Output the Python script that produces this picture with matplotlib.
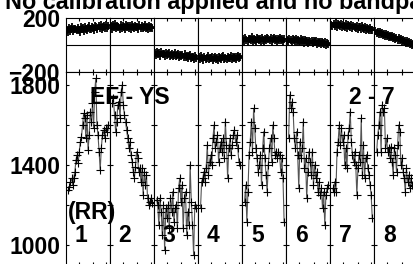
import numpy as np
import matplotlib
matplotlib.use('Agg')
import matplotlib.pyplot as plt

plt.rcParams.update({
    'font.family': 'Liberation Sans', 'font.weight': 'bold',
    'axes.linewidth': 0.8,
})

# ---- data ----
# upper strip: one list per segment (no calibration, offsets)
TOP1 = [112, 98, 125, 104, 118, 130, 101, 115, 122, 108, 127, 113, 99, 131, 117, 124, 106, 135, 119, 112,
        128, 140, 115, 122, 137, 126, 110, 143, 131, 120, 138, 127, 145, 118, 133, 141, 124, 150, 129, 138]
TOP2 = [138, 121, 146, 130, 152, 125, 140, 133, 118, 147, 129, 141, 136, 122, 150, 131, 144, 127, 139, 116,
        148, 134, 125, 143, 130, 137, 120, 145, 128, 140, 123, 135, 146, 126, 132, 119, 141, 129, 137, 124]
TOP3 = [-58, -72, -50, -66, -61, -78, -55, -70, -64, -82, -60, -73, -68, -57, -79, -71, -65, -84, -74, -62,
        -80, -76, -69, -88, -73, -82, -77, -91, -70, -86, -80, -94, -83, -76, -97, -87, -90, -102, -85, -96]
TOP4 = [-92, -104, -85, -98, -110, -90, -101, -95, -83, -106, -93, -99, -87, -108, -96, -89, -102, -94, -111, -86,
        -97, -103, -91, -84, -100, -93, -107, -88, -98, -95, -82, -104, -90, -97, -86, -101, -92, -84, -99, -89]
TOP5 = [44, 30, 52, 38, 27, 48, 41, 35, 56, 33, 45, 39, 24, 50, 42, 36, 47, 31, 54, 40,
        29, 46, 37, 51, 43, 34, 49, 26, 41, 53, 38, 45, 32, 48, 40, 55, 35, 44, 30, 42]
TOP6 = [40, 28, 47, 34, 25, 42, 37, 30, 45, 26, 38, 33, 21, 41, 29, 35, 18, 36, 27, 31,
        14, 33, 24, 28, 12, 26, 19, 30, 10, 22, 16, 25, 5, 19, 13, 8, 20, 2, 12, 6]
TOP7 = [150, 138, 158, 144, 162, 135, 152, 147, 140, 156, 131, 149, 143, 137, 154, 128, 146, 139, 132, 150,
        126, 141, 135, 129, 144, 122, 137, 131, 117, 139, 125, 118, 133, 112, 127, 120, 108, 124, 114, 110]
TOP8 = [102, 90, 95, 84, 98, 80, 88, 75, 85, 70, 79, 66, 74, 62, 70, 57, 66, 50, 60, 46,
        54, 40, 49, 35, 44, 28, 39, 24, 33, 17, 28, 12, 22, 6, 16, 0, 10, -6, 4, -12]

# lower strip: RR interval per segment
RR1 = [1275, 1292, 1317, 1333, 1300, 1337, 1367, 1425, 1450, 1408, 1467, 1517, 1542, 1600, 1658, 1633, 1533, 1650, 1475,
       1550, 1667, 1617, 1708, 1583, 1767, 1833, 1600, 1550, 1467, 1375, 1483, 1550, 1575, 1533, 1583, 1567, 1600]
RR2 = [1708, 1733, 1650, 1567, 1617, 1700, 1717, 1633, 1767, 1800, 1700, 1650, 1617, 1575, 1533, 1483, 1517, 1450, 1417,
       1367, 1333, 1392, 1467, 1433, 1367, 1383, 1317, 1383, 1250, 1367, 1300, 1350, 1233, 1200, 1217, 1233, 1208]
RR3 = [1225, 1200, 1100, 1233, 1167, 1050, 1200, 975, 1183, 1133, 1200, 1083, 1233, 1167, 1267, 1117, 1183, 1200,
       1083, 1283, 1333, 1217, 1300, 1083, 1233, 1267, 1050, 1167, 1100, 1400, 1217, 1100, 950, 1200, 1183]
RR4 = [1183, 1317, 1333, 1367, 1317, 1383, 1500, 1350, 1417, 1450, 1400, 1533, 1600, 1483, 1517, 1550, 1417, 1483,
       1517, 1467, 1533, 1433, 1617, 1500, 1333, 1483, 1533, 1450, 1500, 1550, 1575, 1517, 1550, 1483, 1417, 1400]
RR5 = [1217, 1300, 1117, 1267, 1450, 1517, 1617, 1467, 1683, 1583, 1483, 1433, 1367, 1400, 1450, 1300, 1483, 1567,
       1433, 1350, 1267, 1400, 1483, 1533, 1417, 1600, 1533, 1450, 1467, 1433, 1467, 1450, 1367, 1433, 1333, 1117]
RR6 = [1533, 1750, 1683, 1717, 1667, 1533, 1483, 1567, 1450, 1283, 1517, 1433, 1483, 1617, 1383, 1433, 1233, 1367,
       1467, 1417, 1350, 1467, 1300, 1400, 1333, 1367, 1267, 1317, 1250, 1283, 1183, 1267, 1100, 1250, 1283, 1300]
RR7 = [1283, 1267, 1317, 1267, 1467, 1517, 1600, 1500, 1583, 1517, 1550, 1400, 1483, 1383, 1550, 1583, 1667, 1517, 1450,
       1417, 1467, 1400, 1250, 1383, 1450, 1417, 1633, 1350, 1500, 1333, 1433, 1450, 1383, 1350, 1300, 1250, 1133]
RR8 = [1467, 1550, 1600, 1667, 1467, 1700, 1667, 1683, 1483, 1533, 1467, 1483, 1433, 1492, 1417, 1350, 1483, 1450, 1367,
       1500, 1600, 1567, 1400, 1433, 1367, 1333, 1267, 1383, 1317, 1350, 1283, 1333, 1300, 1283, 1295, 1310, 1290]

TOP = [TOP1, TOP2, TOP3, TOP4, TOP5, TOP6, TOP7, TOP8]
RR = [RR1, RR2, RR3, RR4, RR5, RR6, RR7, RR8]
SEG_LABELS = ['1', '2', '3', '4', '5', '6', '7', '8']

W, H = 414, 264
fig = plt.figure(figsize=(W/100, H/100), dpi=100)
x0, sw = 65.5, 44.06          # pixel layout of the strips
FS = 16.5
TICK_FRAC = np.array([0.3, 0.63, 0.93])

for i in range(len(RR)):
    left = (x0 + i*sw) / W
    # upper strip
    at = fig.add_axes([left, 1 - 72/H, sw/W, 54/H])
    yt = TOP[i]
    xt = np.arange(len(yt))
    at.plot(xt, yt, '-', color='k', lw=1.0, marker='+', ms=6, mew=1.3)
    at.set_xlim(-1.5, len(yt) + 0.5)
    at.set_ylim(-200, 200)
    at.axhline(0, color='k', lw=0.8)
    lo, hi = at.get_xlim()
    at.set_xticks(lo + TICK_FRAC*(hi-lo))
    at.set_xticklabels([])
    at.tick_params(axis='x', direction='in', top=True, bottom=True, length=2.5, width=0.8)
    at.set_yticks([-200, 200])
    at.tick_params(axis='y', length=0, pad=4, labelsize=FS)
    if i > 0:
        at.set_yticklabels([])

    # lower strip
    ab = fig.add_axes([left, 1 - 265/H, sw/W, 193/H])
    yb = RR[i]
    xb = np.arange(len(yb))
    ab.plot(xb, yb, '-', color='#555555', lw=0.8)
    ab.plot(xb, yb, '+', color='k', ms=5.5, mew=0.8)
    ab.set_xlim(-2.5, len(yb) + 0.5)
    ab.set_ylim(900, 1865)
    lo, hi = ab.get_xlim()
    ab.set_xticks(lo + TICK_FRAC*(hi-lo))
    ab.set_xticklabels([])
    ab.tick_params(axis='x', direction='in', top=True, bottom=True, length=2.5, width=0.8)
    ab.set_yticks([1000, 1200, 1400, 1600, 1800])
    ab.tick_params(axis='y', direction='in', left=True, right=True, length=2.5, width=0.8,
                   pad=3.5, labelsize=FS)
    if i == 0:
        ab.set_yticklabels(['1000', '', '1400', '', '1800'])
    else:
        ab.set_yticklabels([])
    ab.text(0.35, 0.155, SEG_LABELS[i], transform=ab.transAxes, ha='center', va='center',
            fontsize=FS, fontweight='bold')

fig.text(5/W, 1 - 9/H, 'No calibration applied and no bandpass correction',
         ha='left', va='baseline', fontsize=16.8, fontweight='bold')
fig.text(90/W, 1 - 97/H, 'EF - YS', ha='left', va='center', fontsize=FS, fontweight='bold')
fig.text(349/W, 1 - 97/H, '2 - 7', ha='left', va='center', fontsize=FS, fontweight='bold')
fig.text(68/W, 1 - 213/H, '(RR)', ha='left', va='center', fontsize=FS, fontweight='bold')

fig.savefig('out.png', dpi=100)
